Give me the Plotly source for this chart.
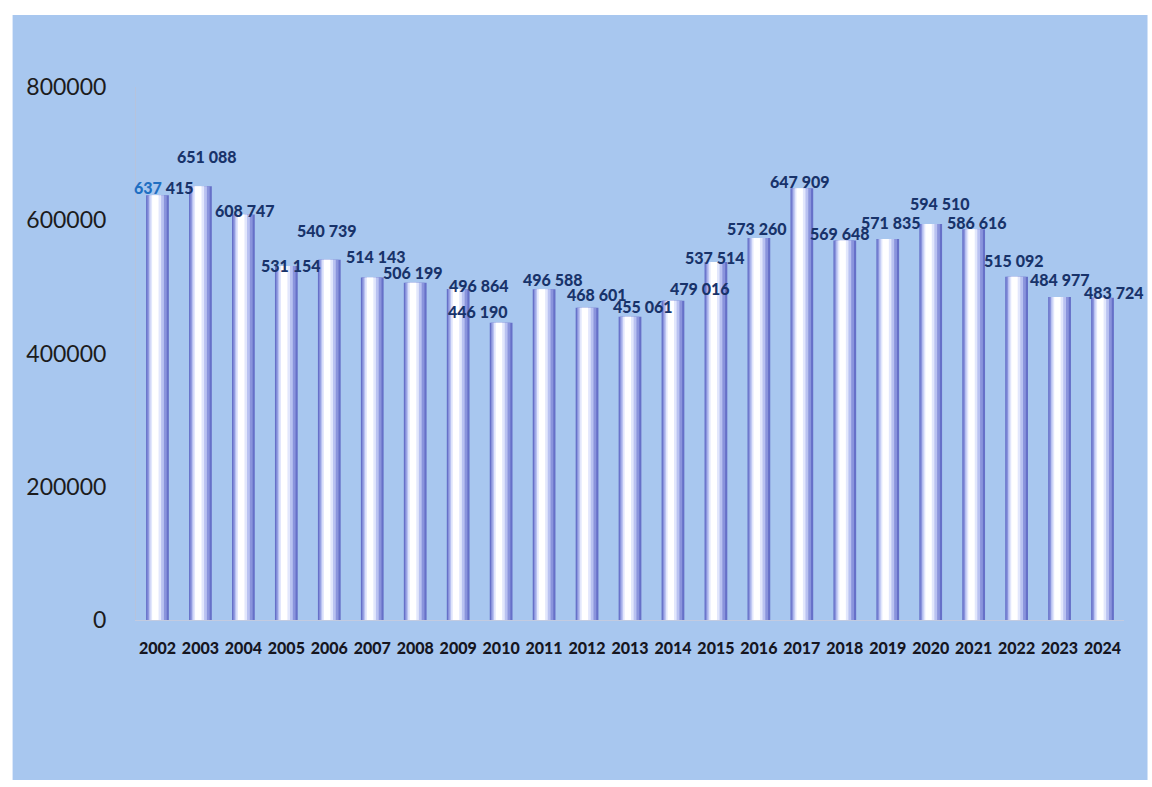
import plotly.graph_objects as go

# Yearly totals
years = [str(y) for y in range(2002, 2025)]
totals = [637415, 651088, 608747, 531154, 540739, 514143, 506199, 496864,
          446190, 496588, 468601, 455061, 479016, 537514, 573260, 647909,
          569648, 571835, 594510, 586616, 515092, 484977, 483724]

y_ticks = [0, 200000, 400000, 600000, 800000]

# Pixel nudges (dx right, dy up) for each value label
label_nudge = [(6, 8), (6, 30), (1, 4), (4, 1), (-3, 29), (3, 21), (-3, 10),
               (20, 3), (-24, 11), (8, 10), (9, 13), (12, 10), (27, 12),
               (-1, 4), (-2, 10), (-2, 7), (-5, 7), (3, 17), (9, 20),
               (3, 7), (-3, 16), (0, 17), (11, 5)]

PANEL = "#a8c7ef"
NAVY = "#18336a"


def fmt_space(v):
    return f"{v:,}".replace(",", " ")


fig = go.Figure()

# Cylinder-like bars: stacked overlays of narrower, lighter bars
layers = [
    (0.53, -0.265, "#6670c8"),
    (0.45, -0.235, "#8a94dc"),
    (0.35, -0.2, "#b9c2f1"),
    (0.25, -0.165, "#e2e7fc"),
    (0.15, -0.125, "#ffffff"),
]
for w, off, col in layers:
    fig.add_trace(go.Bar(
        x=years, y=totals, width=w, offset=off,
        marker=dict(color=col, line=dict(width=0)),
        hoverinfo="skip", showlegend=False,
    ))

# Value labels (placed by category index)
for i, (v, (dx, dy)) in enumerate(zip(totals, label_nudge)):
    txt = fmt_space(v)
    if i == 0:
        head, tail = txt.split(" ")
        txt = f"<span style='color:#1f6fc2'>{head}</span> {tail}"
    fig.add_annotation(
        x=i, y=v, text=txt, showarrow=False,
        xshift=dx, yshift=dy, yanchor="middle",
        font=dict(family="Lato", size=16, color=NAVY, weight=900),
    )

# Light-blue panel behind the chart
fig.add_shape(
    type="rect", xref="paper", yref="paper",
    x0=-0.1249, x1=1.0238, y0=-0.300, y1=1.135,
    fillcolor=PANEL, line=dict(width=0), layer="below",
)

fig.update_layout(
    width=1152, height=787,
    margin=dict(l=135.5, r=27.5, t=87, b=167),
    paper_bgcolor="white",
    plot_bgcolor=PANEL,
    barmode="overlay",
    font=dict(family="Lato"),
    xaxis=dict(
        type="category",
        range=[-0.5, len(years) - 0.5],
        autorange=False,
        showgrid=False,
        showline=True, linecolor="#c3cbe0", linewidth=1,
        ticks="",
        ticklabelstandoff=14,
        tickfont=dict(family="Lato", size=16, color="#16161f", weight=900),
    ),
    yaxis=dict(
        range=[0, 800000],
        autorange=False,
        tickvals=y_ticks,
        ticktext=[str(t) for t in y_ticks],
        showgrid=False, zeroline=False,
        showline=True, linecolor="#b6c3dc", linewidth=1,
        ticks="",
        ticklabelstandoff=24,
        tickfont=dict(family="Lato", size=23, color="#1c1c1c"),
    ),
)

fig.write_html("out.html")
